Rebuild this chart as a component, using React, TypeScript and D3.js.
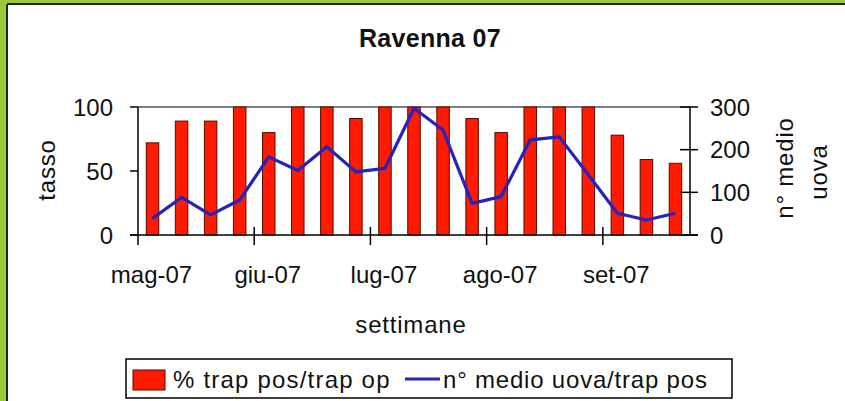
import * as d3 from "d3";

// weekly samples, May to September 2007 (ISO week numbers)
const weeks = ["18", "19", "20", "21", "22", "23", "24", "25", "26", "27", "28", "29", "30", "31", "32", "33", "34", "35", "36"];
const pctPositive = [72, 89, 89, 100, 80, 100, 100, 91, 100, 100, 100, 91, 80, 100, 100, 100, 78, 59, 56];
const meanEggs = [39, 88, 47, 82, 183, 151, 207, 148, 156, 297, 246, 74, 90, 223, 230, 141, 51, 35, 51];
const monthLabels = ["mag-07", "giu-07", "lug-07", "ago-07", "set-07"];
const monthStartWeek = ["18", "22", "26", "30", "34"];
const leftTicks = [0, 50, 100];
const rightTicks = [0, 100, 200, 300];

const W = 845;
const H = 401;
const font = "'Liberation Sans', Arial, sans-serif";
const ink = "#111";

export default function App() {
  const x = d3.scaleBand().domain(weeks).range([138, 690]).paddingInner(0.57).paddingOuter(0.285);
  const yL = d3.scaleLinear().domain([0, 100]).range([235, 107]);
  const yR = d3.scaleLinear().domain([0, 300]).range([235, 107]);
  const half = x.bandwidth() / 2;
  const gap = (x.step() - x.bandwidth()) / 2;

  const line = d3
    .line<number>()
    .x((_, i) => (x(weeks[i]) as number) + half)
    .y((d) => yR(d));

  const [x0, x1] = x.range();

  return (
    <svg width={W} height={H} style={{ position: "absolute", left: 0, top: 0, background: "#fff" }} fontFamily={font}>
      {/* frame */}
      <rect x={0} y={0} width={6} height={H} fill="#9cc63b" />
      <rect x={0} y={0} width={W} height={3} fill="#9cc63b" />
      <line x1={7} x2={7} y1={4} y2={H} stroke="#1c2a12" strokeWidth={2} />
      <line x1={7} x2={W} y1={4} y2={4} stroke="#1c2a12" strokeWidth={2} />

      <text x={430} y={47} textAnchor="middle" fontSize={25} fontWeight="bold" fill={ink} letterSpacing={0.3}>
        Ravenna 07
      </text>

      {/* top border line of plot */}
      <line x1={x0} x2={x1} y1={yL(100)} y2={yL(100)} stroke="#000" strokeWidth={1.2} />

      {/* bars */}
      {pctPositive.map((v, i) => (
        <rect
          key={weeks[i]}
          x={x(weeks[i])}
          y={yL(v)}
          width={x.bandwidth()}
          height={yL(0) - yL(v)}
          fill="#ff1a00"
          stroke="#5a0a00"
          strokeWidth={1}
        />
      ))}

      {/* line series */}
      <path d={line(meanEggs) ?? ""} fill="none" stroke="#2424bc" strokeWidth={3.2} strokeLinejoin="round" />

      {/* axes */}
      <line x1={x0} x2={x0} y1={yL(100)} y2={yL(0) + 10} stroke="#000" strokeWidth={1.5} />
      <line x1={x1} x2={x1} y1={yR(300)} y2={yR(0)} stroke="#000" strokeWidth={1.5} />
      <line x1={x0 - 8} x2={x1 + 8} y1={yL(0)} y2={yL(0)} stroke="#000" strokeWidth={1.5} />

      {leftTicks.map((t) => (
        <g key={"l" + t}>
          <line x1={x0 - 8} x2={x0} y1={yL(t)} y2={yL(t)} stroke="#000" strokeWidth={1.5} />
          <text x={113} y={yL(t)} dy="0.36em" textAnchor="end" fontSize={24} fill={ink}>
            {t}
          </text>
        </g>
      ))}
      {rightTicks.map((t) => (
        <g key={"r" + t}>
          <line x1={x1 - 10} x2={x1 + 8} y1={yR(t)} y2={yR(t)} stroke="#000" strokeWidth={1.5} />
          <text x={710} y={yR(t)} dy="0.36em" textAnchor="start" fontSize={24} fill={ink}>
            {t}
          </text>
        </g>
      ))}
      {monthStartWeek.map((w, i) => {
        const tx = (x(w) as number) - gap;
        return (
          <g key={w}>
            {i > 0 && <line x1={tx} x2={tx} y1={yL(0) - 8} y2={yL(0) + 10} stroke="#000" strokeWidth={1.5} />}
            <text x={(x(w) as number) + half - 1} y={283} textAnchor="middle" fontSize={24} fill={ink}>
              {monthLabels[i]}
            </text>
          </g>
        );
      })}

      <text x={411} y={333} textAnchor="middle" fontSize={24} fill={ink} letterSpacing={0.8}>
        settimane
      </text>
      <text transform="translate(55,170) rotate(-90)" textAnchor="middle" fontSize={24} fill={ink} letterSpacing={0.8}>
        tasso
      </text>
      <text transform="translate(793,168) rotate(-90)" textAnchor="middle" fontSize={24} fill={ink} letterSpacing={0.8}>
        n° medio
      </text>
      <text transform="translate(827,172) rotate(-90)" textAnchor="middle" fontSize={24} fill={ink} letterSpacing={0.8}>
        uova
      </text>

      {/* legend */}
      <rect x={126} y={359} width={606} height={39} fill="#fff" stroke="#000" strokeWidth={1.5} />
      <rect x={133} y={370} width={32} height={20} fill="#ff1a00" stroke="#5a0a00" strokeWidth={1} />
      <text x={173} y={388} fontSize={24} fill={ink} letterSpacing={1.2}>
        % trap pos/trap op
      </text>
      <line x1={405} x2={440} y1={379} y2={379} stroke="#2424bc" strokeWidth={3.2} />
      <text x={443} y={388} fontSize={24} fill={ink} letterSpacing={0.8}>
        n° medio uova/trap pos
      </text>
    </svg>
  );
}
